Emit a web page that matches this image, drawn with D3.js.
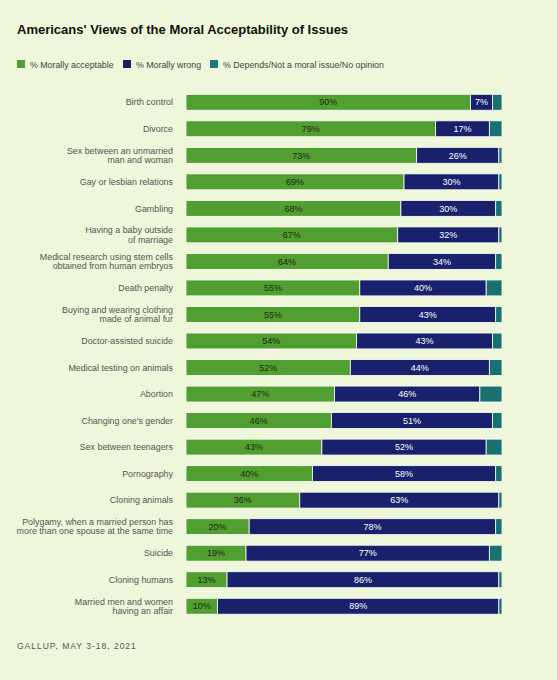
<!DOCTYPE html>
<html>
<head>
<meta charset="utf-8">
<script src="https://cdn.jsdelivr.net/npm/d3@7"></script>
<style>
  body { margin: 0; background: #eef7d9; }
  svg { display: block; }
  text { font-family: "Liberation Sans", Arial, sans-serif; }
</style>
</head>
<body>
<svg width="557" height="680"></svg>
<script>
const categories = [
  "Birth control",
  "Divorce",
  "Sex between an unmarried\nman and woman",
  "Gay or lesbian relations",
  "Gambling",
  "Having a baby outside\nof marriage",
  "Medical research using stem cells\nobtained from human embryos",
  "Death penalty",
  "Buying and wearing clothing\nmade of animal fur",
  "Doctor-assisted suicide",
  "Medical testing on animals",
  "Abortion",
  "Changing one's gender",
  "Sex between teenagers",
  "Pornography",
  "Cloning animals",
  "Polygamy, when a married person has\nmore than one spouse at the same time",
  "Suicide",
  "Cloning humans",
  "Married men and women\nhaving an affair"
]
const acceptable = [90, 79, 73, 69, 68, 67, 64, 55, 55, 54, 52, 47, 46, 43, 40, 36, 20, 19, 13, 10]
const wrong      = [ 7, 17, 26, 30, 30, 32, 34, 40, 43, 43, 44, 46, 51, 52, 58, 63, 78, 77, 86, 89]
const depends    = [ 3,  4,  1,  1,  2,  1,  2,  5,  2,  3,  4,  7,  3,  5,  2,  1,  2,  4,  1,  1]
const seriesNames = ["% Morally acceptable", "% Morally wrong", "% Depends/Not a moral issue/No opinion"]

const keys = ["acceptable", "wrong", "depends"]
const colors = {acceptable: "#519f30", wrong: "#19216c", depends: "url(#hatch)"}

const rows = categories.map((c, i) => ({
  category: c, acceptable: acceptable[i], wrong: wrong[i], depends: depends[i]
}))

const svg = d3.select("svg")

// hatch pattern for the teal segment
const pat = svg.append("defs").append("pattern")
  .attr("id", "hatch")
  .attr("patternUnits", "userSpaceOnUse")
  .attr("width", 2.5).attr("height", 2.5)
  .attr("patternTransform", "rotate(45)")
pat.append("rect").attr("width", 2.5).attr("height", 2.5).attr("fill", "#1b7b78")
pat.append("rect").attr("width", 1).attr("height", 2.5).attr("fill", "#14615f")

svg.append("text")
  .attr("x", 17).attr("y", 34)
  .style("font-size", "13px").style("font-weight", "bold").style("fill", "#111")
  .text("Americans' Views of the Moral Acceptability of Issues")

// legend
const legendX = [17, 123, 210]
const legend = svg.selectAll("g.legend")
  .data(keys)
  .enter().append("g")
  .attr("class", "legend")
  .attr("transform", (d, i) => `translate(${legendX[i]}, 60)`)
legend.append("rect")
  .attr("width", 8).attr("height", 8)
  .attr("fill", d => d === "depends" ? "#1b7b78" : colors[d])
legend.append("text")
  .attr("x", 13).attr("y", 7.5)
  .style("font-size", "8.8px").style("fill", "#444")
  .text((d, i) => seriesNames[i])

const x = d3.scaleLinear().domain([0, 100]).range([186, 502])
const y = d3.scaleBand()
  .domain(categories)
  .range([89, 619.5])
  .paddingInner(0.4)
  .paddingOuter(0.2)

const stacked = d3.stack().keys(keys)(rows)

const layer = svg.selectAll("g.layer")
  .data(stacked)
  .enter().append("g")
  .attr("class", "layer")
  .attr("fill", d => colors[d.key])

layer.selectAll("rect")
  .data(d => d)
  .enter().append("rect")
  .attr("x", d => x(d[0]))
  .attr("y", d => y(d.data.category))
  .attr("width", d => x(d[1]) - x(d[0]))
  .attr("height", y.bandwidth())
  .attr("stroke", "#ffffff")
  .attr("stroke-width", 0.8)

// value labels
layer.filter(d => d.key !== "depends")
  .selectAll("text")
  .data(d => d.map(v => ({v, key: d.key})))
  .enter().append("text")
  .attr("x", d => (x(d.v[0]) + x(d.v[1])) / 2)
  .attr("y", d => y(d.v.data.category) + y.bandwidth() / 2 + 3.2)
  .attr("text-anchor", "middle")
  .style("font-size", "9px")
  .style("fill", d => d.key === "wrong" ? "#ffffff" : "#1c2a10")
  .text(d => d.v.data[d.key] + "%")

// category labels
const labels = svg.selectAll("text.cat")
  .data(categories)
  .enter().append("text")
  .attr("class", "cat")
  .attr("text-anchor", "end")
  .style("font-size", "8.9px")
  .style("fill", "#555")
  .attr("transform", d => {
    const n = d.split("\n").length
    return `translate(173, ${y(d) + y.bandwidth() / 2 + 3.2 - (n - 1) * 4.6})`
  })
labels.selectAll("tspan")
  .data(d => d.split("\n"))
  .enter().append("tspan")
  .attr("x", 0)
  .attr("dy", (d, i) => i === 0 ? 0 : 9.2)
  .text(d => d)

svg.append("text")
  .attr("x", 17).attr("y", 649)
  .style("font-size", "8.5px").style("letter-spacing", "1px").style("fill", "#555")
  .text("GALLUP, MAY 3-18, 2021")
</script>
</body>
</html>
